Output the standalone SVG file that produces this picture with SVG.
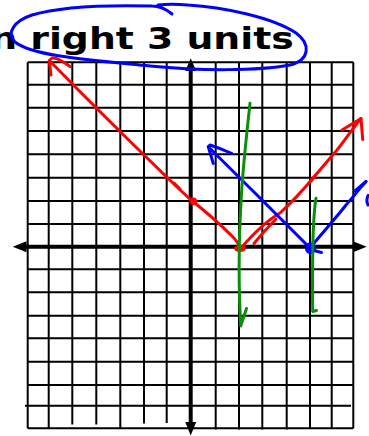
<svg xmlns="http://www.w3.org/2000/svg" width="369" height="436" viewBox="0 0 369 436">
<style>
.g{stroke:#000;stroke-width:2;fill:none}
.ax{stroke:#000;stroke-width:4;fill:none}
.ah{fill:#000;stroke:none}
.r{stroke:#ff0000;stroke-width:3;fill:none;stroke-linecap:round;stroke-linejoin:round}
.b{stroke:#0000ff;stroke-width:3;fill:none;stroke-linecap:round;stroke-linejoin:round}
.gr{stroke:#0a8f0a;stroke-width:3;fill:none;stroke-linecap:round;stroke-linejoin:round}
.t{font-family:"DejaVu Sans",sans-serif;font-weight:bold;font-size:30px;fill:#000}
</style>
<rect width="369" height="436" fill="#fff"/>
<g id="grid">
<path class="g" d="M27.7,62.3V428.3M48.7,62.3V428.3M72.3,62.3V424.5M96.3,62.3V424.5M120.3,62.3V428.3M144,62.3V423.5M166.7,62.3V423M215.7,62.3V429.5M239,62.3V429.5M262.3,62.3V429.5M286.7,62.3V429.5M310,62.3V428.3M331.7,62.3V428.3M353.3,62.3V428.3"/>
<path class="g" d="M27.7,62.3H353.3M27.7,84.7H353.3M27.7,107.7H353.3M27.7,131H353.3M27.7,154.3H353.3M27.7,177.7H353.3M27.7,201H353.3M27.7,224H353.3M27.7,269.3H353.3M27.7,292.3H353.3M27.7,315.7H353.3M27.7,338.3H353.3M27.7,361.7H353.3M27.7,385H353.3M25,405.7H351M27.7,428.3H353.3"/>
</g>
<g id="axes">
<path class="ax" d="M25,246.7H355M190.7,69V423"/>
<path class="ah" d="M12.7,246.7L26.5,241.2V252.2Z"/>
<path class="ah" d="M366.7,246.7L353,241.2V252.2Z"/>
<path class="ah" d="M190.7,58.3L185.2,71H196.2Z"/>
<path class="ah" d="M190.7,435.5L185.2,422H196.2Z"/>
</g>
<g id="title">
<text class="t" transform="translate(-9.8 49.3) scale(1.26 1)">n right 3 units</text>
</g>
<g id="circle-mark">
<path class="b" d="M172,14C166,9 160,6 152,6C115,5 62,6 32,15C14,21 6,33 15,42C32,56 90,60 150,66C200,71 258,71 290,65C310,60 311,44 296,33C272,17 222,7 188,5C177,4 166,4 158,5"/>
</g>
<g id="red-graph">
<path class="r" d="M49.3,60.5C80,92 120,132 166.7,177C178,188 186,196 193,201.5C206,212 222,226 232,236C236,240 239,245 240,248"/>
<path class="r" d="M70,66.5C64,62 57,57 52,58L49.3,60.5L51,75"/>
<path class="r" d="M174,183L180,189"/>
<circle cx="193.3" cy="201.2" r="3.8" fill="#ff0000"/>
<ellipse cx="240" cy="248.5" rx="6" ry="3.5" fill="#ff0000"/>
<path class="r" d="M241,248C254,233 268,220 280,213C292,202 304,189 313,178C322,168 330,158 337,150C345,140 353,128 361,118.5"/>
<path class="r" d="M254,243.5C260,236 268,227 276,219"/>
<path class="r" d="M311,181L315,176"/>
<path class="r" d="M342,130L361,118.5L362.7,139.5"/>
</g>
<g id="blue-graph">
<path class="b" d="M208.3,146.7C240,178 280,218 310,248"/>
<path class="b" d="M232,153.5C224,150 216,147 210,145L208.3,146.7L213.3,163.5"/>
<path class="b" d="M310,248C322,233 336,218 346,205C354,196 360,188 366,181.5"/>
<path class="b" d="M366,181.5L355,191"/>
<path class="b" d="M368,195.5C366.5,199 366.5,202 368,205"/>
<ellipse cx="310.5" cy="248.3" rx="5.5" ry="6" fill="#0000ff"/>
<path class="b" d="M314,250.5L321.5,252.5"/>
</g>
<g id="green-lines">
<path class="gr" d="M250,103.3C247,130 244,160 242,185C240.5,210 239.5,230 239.3,248.3C239,270 239,290 240,310C240.3,318 240.5,322 240.7,326L246.5,308.5"/>
<path class="gr" d="M316,198.3C314,210 313.3,225 312.8,246.7C312.5,270 312.5,295 312.7,311.5L316.5,310.5"/>
</g>
</svg>
